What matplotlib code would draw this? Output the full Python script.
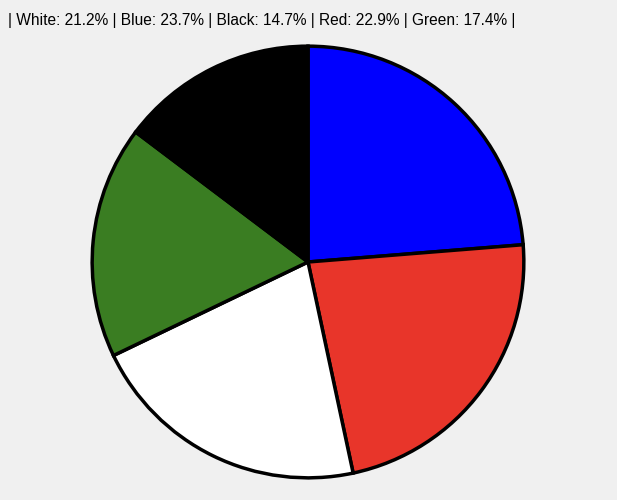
import matplotlib.pyplot as plt

# Slice order as drawn, clockwise from the top
labels = ["Blue", "Red", "White", "Green", "Black"]
values = [23.7, 22.9, 21.2, 17.4, 14.7]
colors = ["#0000ff", "#e8352a", "#ffffff", "#3a7d22", "#000000"]

# Order used in the title text
title_order = ["White", "Blue", "Black", "Red", "Green"]

plt.rcParams["font.family"] = ["Liberation Sans", "DejaVu Sans"]

fig = plt.figure(figsize=(6.17, 5.0), dpi=100, facecolor="#f0f0f0")
ax = fig.add_axes([90 / 617, 20 / 500, 436 / 617, 436 / 500])
ax.set_facecolor("#f0f0f0")

ax.pie(
    values,
    colors=colors,
    startangle=90,
    counterclock=False,
    radius=1.0,
    wedgeprops=dict(edgecolor="black", linewidth=2.5),
)
ax.set_xlim(-1.01, 1.01)
ax.set_ylim(-1.01, 1.01)
ax.set_aspect("equal")
ax.axis("off")

pct = dict(zip(labels, values))
title = "| " + " | ".join(f"{name}: {pct[name]:.1f}%" for name in title_order) + " |"
fig.text(8 / 617, 1 - 20 / 500, title, ha="left", va="center", fontsize=11.2, color="black")

fig.savefig("out.png", dpi=100, facecolor=fig.get_facecolor())
